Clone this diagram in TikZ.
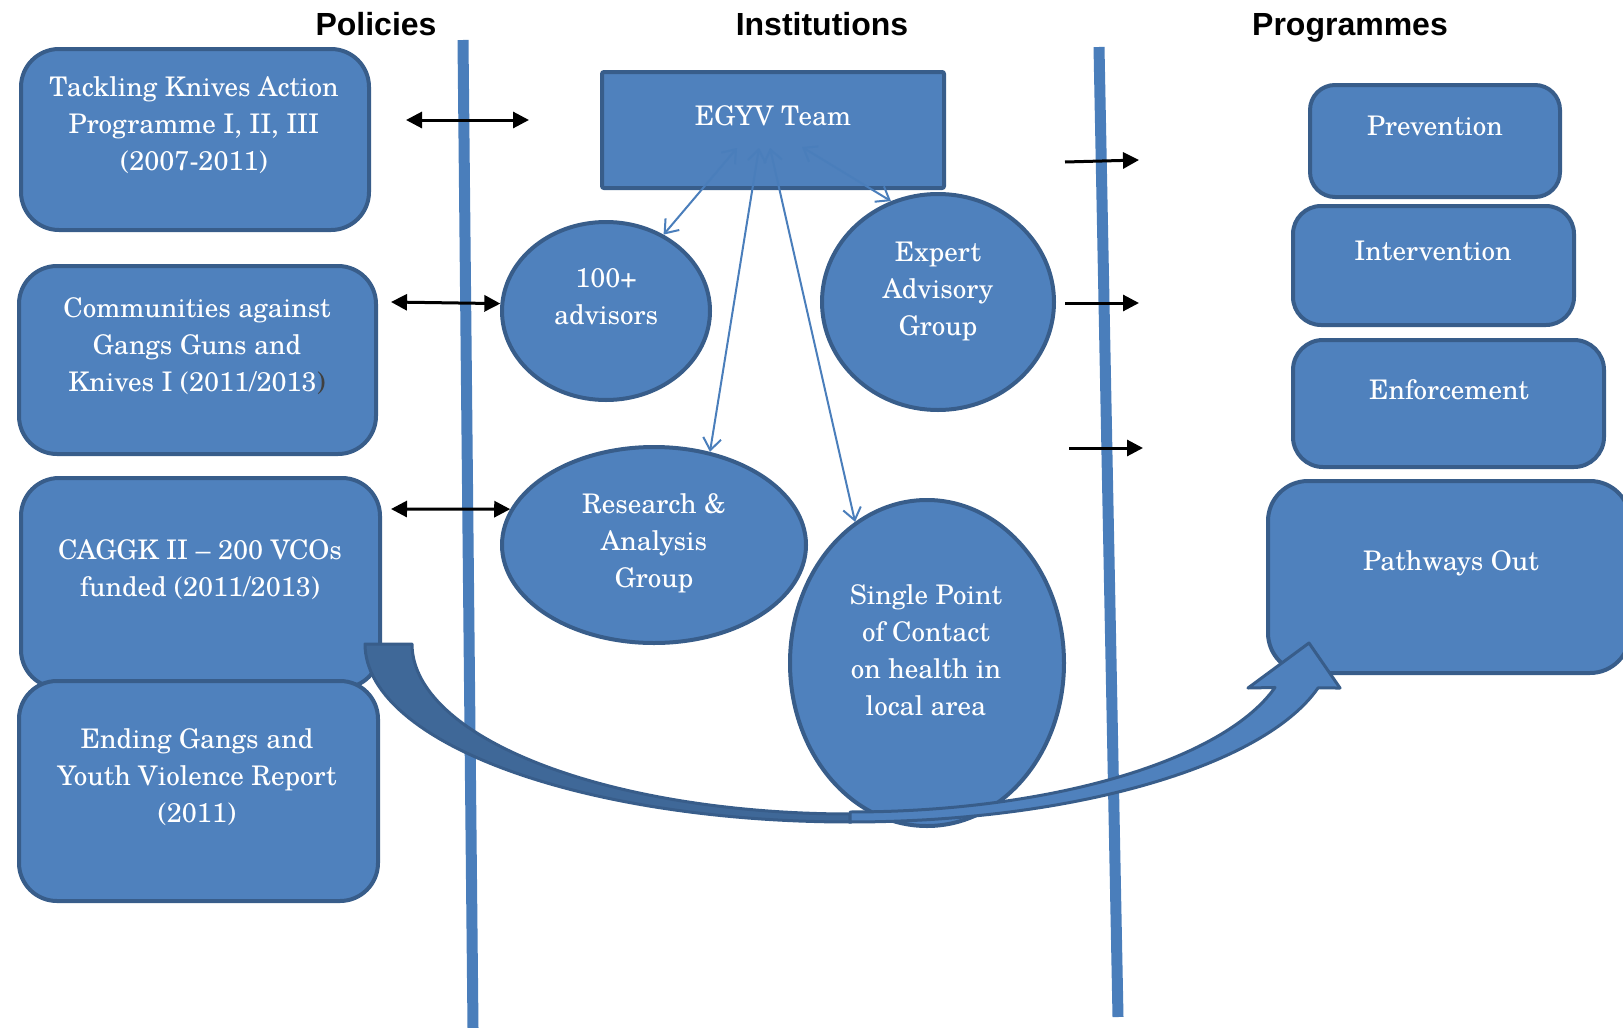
\documentclass[tikz,border=0pt]{standalone}
\usepackage{fontspec}
\setmainfont{TeX Gyre Schola}
\newfontfamily\hdrfont{Liberation Sans}
\usetikzlibrary{shapes.geometric,arrows.meta}
\definecolor{fillb}{HTML}{4F81BD}
\definecolor{edgeb}{HTML}{385D8A}
\definecolor{darkb}{HTML}{3F6898}
\definecolor{lineb}{HTML}{4A7EBB}
\begin{document}
\begin{tikzpicture}[x=1pt,y=-1pt,
 rbox/.style={rectangle,draw=edgeb,fill=fillb,line width=4pt,rounded corners=#1,inner sep=0pt},
 rbox/.default=38pt,
 oval/.style={ellipse,draw=edgeb,fill=fillb,line width=4pt,inner sep=0pt},
 txt/.style={text=white,align=center,font=\fontsize{27}{37}\selectfont,inner sep=0pt},
 hdr/.style={font=\hdrfont\bfseries\fontsize{32}{38}\selectfont,anchor=base,inner sep=0pt},
 vline/.style={draw=lineb,line width=11pt},
 blk/.style={draw=black,line width=3pt,-{Triangle[length=16pt,width=16pt]}},
 blkd/.style={draw=black,line width=3pt,{Triangle[length=16pt,width=16pt]}-{Triangle[length=16pt,width=16pt]}},
 bluearr/.style={draw=lineb,line width=2pt,{Straight Barb[length=12pt,width=18pt]}-{Straight Barb[length=12pt,width=18pt]}},
]
\useasboundingbox (0,0) rectangle (1623,1028);

% column separators
\coordinate (v1a) at (463,40);
\coordinate (v1b) at (473,1028);
\coordinate (v2a) at (1099,47);
\coordinate (v2b) at (1118,1017);
\draw[vline] (v1a) -- (v1b);
\draw[vline] (v2a) -- (v2b);

% headers
\node[hdr] (hpol) at (376,35) {Policies};
\node[hdr] (hins) at (822,35) {Institutions};
\node[hdr] (hpro) at (1350,35) {Programmes};

% policy boxes
\node[rbox, minimum width=348pt, minimum height=181pt] (b1) at (195,139.5) {};
\node[txt] (t1) at (194,125) {Tackling Knives Action\\Programme I, II, III\\(2007-2011)};
\node[rbox, minimum width=357pt, minimum height=188pt] (b2) at (197.5,360) {};
\node[txt] (t2) at (197,346) {Communities against\\Gangs Guns and\\Knives I (2011/2013\textcolor[HTML]{404040}{)}};
\node[rbox, minimum width=359pt, minimum height=210pt] (b3) at (200.5,583) {};
\node[txt] (t3) at (200,570) {CAGGK II – 200 VCOs\\funded (2011/2013)};
\node[rbox, minimum width=359pt, minimum height=220pt] (b4) at (198.5,791) {};
\node[txt] (t4) at (197,777) {Ending Gangs and\\Youth Violence Report\\(2011)};

% institutions
\node[rbox=2pt, minimum width=342pt, minimum height=116pt] (egyv) at (773,130) {};
\node[txt] (egyvt) at (773,116) {EGYV Team};
\node[oval, minimum width=208pt, minimum height=178pt] (adv) at (606,311) {};
\node[txt] (advt) at (606,297) {100+\\advisors};
\node[oval, minimum width=232pt, minimum height=216pt] (exp) at (938,302) {};
\node[txt] (expt) at (938,291) {Expert\\Advisory\\Group};
\node[oval, minimum width=304pt, minimum height=196pt] (res) at (654,545) {};
\node[txt] (rest) at (654,543) {Research \&\\Analysis\\Group};
\node[oval, minimum width=274pt, minimum height=326pt] (spc) at (927,663) {};
\node[txt] (spct) at (926,650) {Single Point\\of Contact\\on health in\\local area};

% programmes
\node[rbox=25pt, minimum width=250pt, minimum height=112pt] (prev) at (1435,141) {};
\node[txt] (prevt) at (1435,126) {Prevention};
\node[rbox=28pt, minimum width=281pt, minimum height=119pt] (intv) at (1433.5,265.5) {};
\node[txt] (intvt) at (1433,251) {Intervention};
\node[rbox=30pt, minimum width=311pt, minimum height=127pt] (enf) at (1448.5,403.5) {};
\node[txt] (enft) at (1449,390) {Enforcement};
\node[rbox=40pt, minimum width=362pt, minimum height=192pt] (path) at (1449,577) {};
\node[txt] (patht) at (1451,563) {Pathways Out};

% links inside institutions
\coordinate (s1) at (737,148);
\coordinate (s2) at (802,147);
\coordinate (s3) at (759,148);
\coordinate (s4) at (770,148);
\draw[bluearr] (s1) -- (adv.53);
\draw[bluearr] (s2) -- (exp.115);
\draw[bluearr] (s3) -- (res.59);
\draw[bluearr] (s4) -- (spc.117);

% policy <-> institution arrows
\coordinate (p1a) at (406,120);
\coordinate (p1b) at (529,120);
\coordinate (p2a) at (391,302);
\coordinate (p3a) at (391,509);
\draw[blkd] (p1a) -- (p1b);
\draw[blkd] (p2a) -- (adv.176);
\draw[blkd] (p3a) -- (res.166);

% institution -> programme arrows
\coordinate (r1a) at (1065,162);
\coordinate (r1b) at (1139,160);
\coordinate (r2a) at (1065,303);
\coordinate (r2b) at (1139,303);
\coordinate (r3a) at (1069,448);
\coordinate (r3b) at (1143,448);
\draw[blk] (r1a) -- (r1b);
\draw[blk] (r2a) -- (r2b);
\draw[blk] (r3a) -- (r3b);

% big curved arrow
\filldraw[fill=darkb,draw=edgeb,line width=3pt,line join=round]
  plot[domain=180:90,samples=60] ({850+485*cos(\x)},{644+178*sin(\x)})
  -- plot[domain=90:180,samples=60] ({850+438*cos(\x)},{644+170*sin(\x)})
  -- cycle;
\filldraw[fill=fillb,draw=edgeb,line width=3pt,line join=round]
  plot[domain=90:14.3,samples=60] ({850+483*cos(\x)},{644+178*sin(\x)})
  -- (1340,688) -- (1309,643) -- (1248,688)
  -- plot[domain=15:90,samples=60] ({850+440*cos(\x)},{644+168*sin(\x)})
  -- cycle;
\end{tikzpicture}
\end{document}
